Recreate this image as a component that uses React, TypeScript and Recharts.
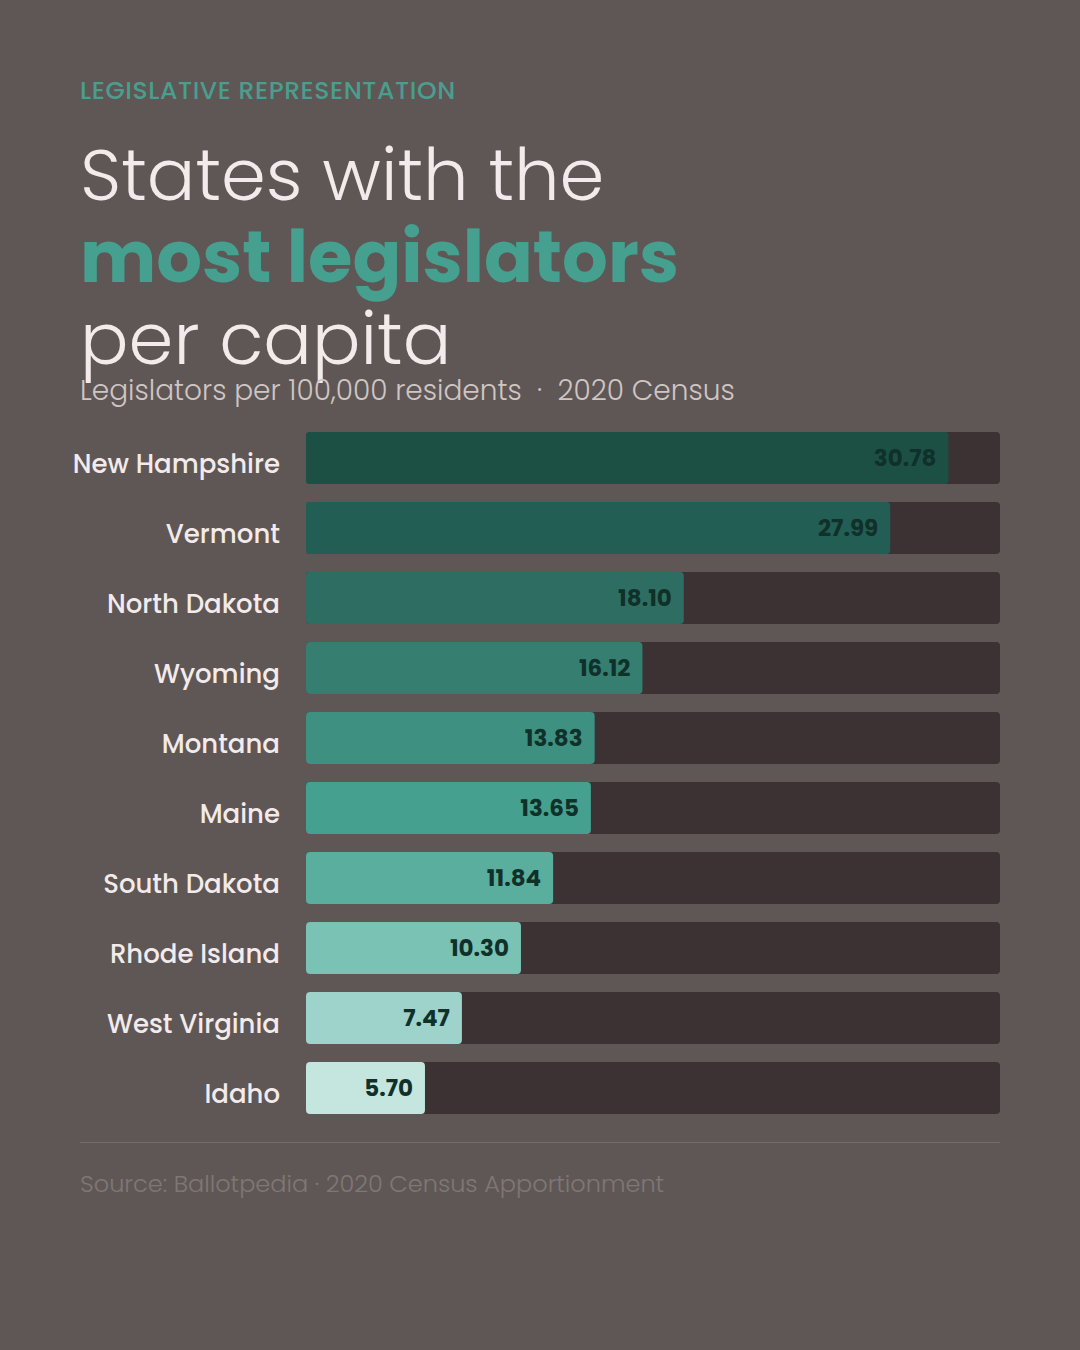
import { BarChart, Bar, XAxis, YAxis, Cell, LabelList } from 'recharts'

const states = [
  'New Hampshire',
  'Vermont',
  'North Dakota',
  'Wyoming',
  'Montana',
  'Maine',
  'South Dakota',
  'Rhode Island',
  'West Virginia',
  'Idaho',
]
const perCapita = [30.78, 27.99, 18.1, 16.12, 13.83, 13.65, 11.84, 10.3, 7.47, 5.7]
const barColors = [
  '#1c5045',
  '#235e54',
  '#2e6e62',
  '#357e70',
  '#3e9080',
  '#45a08f',
  '#5aae9e',
  '#79c2b4',
  '#9dd3ca',
  '#c4e6df',
]

const FONT = "Poppins, 'Open Sans', 'Noto Sans', sans-serif"
const BG = '#5f5755'
const TRACK = '#3c3133'

export default function App() {
  const data = states.map((s, i) => ({ state: s, value: perCapita[i], color: barColors[i] }))

  return (
    <div
      style={{
        position: 'absolute',
        left: 0,
        top: 0,
        width: 1080,
        height: 1350,
        background: BG,
        fontFamily: FONT,
        overflow: 'hidden',
      }}
    >
      <div style={{ position: 'absolute', left: 80, top: 76, fontSize: 25, fontWeight: 500, color: '#4a9e8d', lineHeight: '30px', letterSpacing: 0.6 }}>
        LEGISLATIVE REPRESENTATION
      </div>

      <div style={{ position: 'absolute', left: 80, top: 134, fontSize: 72, lineHeight: '82px', color: '#f3ebeb', fontWeight: 300 }}>
        <div>States with the</div>
        <div style={{ fontWeight: 700, color: '#45a08f' }}>most legislators</div>
        <div>per capita</div>
      </div>

      <div style={{ position: 'absolute', left: 80, top: 373, fontSize: 28, lineHeight: '36px', color: '#cfc6c4', fontWeight: 300 }}>
        Legislators per 100,000 residents&nbsp; ·&nbsp; 2020 Census
      </div>

      <div style={{ position: 'absolute', left: 0, top: 423 }}>
        <BarChart
          width={1080}
          height={700}
          data={data}
          layout="vertical"
          margin={{ top: 0, right: 80, bottom: 0, left: 0 }}
          barCategoryGap={18}
        >
          <XAxis type="number" domain={[0, 33.25]} hide />
          <YAxis
            type="category"
            dataKey="state"
            width={306}
            axisLine={false}
            tickLine={false}
            tickSize={0}
            tickMargin={26}
            dy={6}
            tick={{ fill: '#f3ebeb', fontSize: 26, fontWeight: 500, fontFamily: FONT }}
          />
          <Bar
            dataKey="value"
            barSize={52}
            radius={4}
            background={{ fill: TRACK, radius: 4 } as any}
            isAnimationActive={false}
          >
            {data.map((d) => (
              <Cell key={d.state} fill={d.color} />
            ))}
            <LabelList
              dataKey="value"
              position="insideRight"
              offset={12}
              formatter={(v: unknown) => Number(v).toFixed(2)}
              style={{ fill: '#10302a', fontSize: 23, fontWeight: 700, fontFamily: FONT }}
            />
          </Bar>
        </BarChart>
      </div>

      <div style={{ position: 'absolute', left: 80, top: 1142, width: 920, height: 1, background: '#756d6b' }} />

      <div style={{ position: 'absolute', left: 80, top: 1168, fontSize: 24, lineHeight: '32px', color: '#7f7775', fontWeight: 300 }}>
        Source: Ballotpedia · 2020 Census Apportionment
      </div>
    </div>
  )
}
